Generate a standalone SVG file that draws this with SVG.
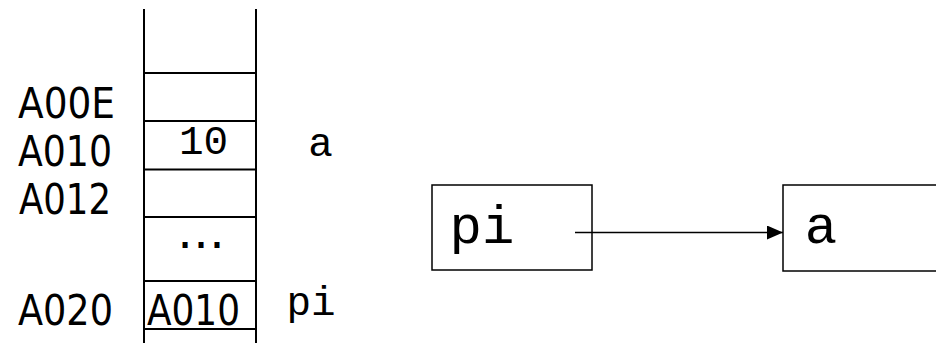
<svg xmlns="http://www.w3.org/2000/svg" width="936" height="343" viewBox="0 0 936 343">
  <style>
    .line { stroke: #000; stroke-width: 2; fill: none; }
    .box { stroke: #000; stroke-width: 1.5; fill: #fff; }
    .addr { font-family: "DejaVu Sans Condensed", "DejaVu Sans", Tahoma, sans-serif; font-size: 43px; fill: #000; }
    .dots { font-family: "DejaVu Sans", sans-serif; font-size: 48px; fill: #000; }
    .mono { font-family: "Courier New", "Liberation Mono", monospace; fill: #000; }
    .small { font-size: 41px; }
    .big { font-size: 54px; }
    .conn { stroke: #000; stroke-width: 1.5; fill: none; }
  </style>
  <defs>
    <marker id="arrow" markerWidth="16" markerHeight="14" refX="16" refY="7" orient="auto" markerUnits="userSpaceOnUse">
      <path d="M0,0 L16,7 L0,14 Z" fill="#000"/>
    </marker>
  </defs>

  <!-- memory stack column -->
  <g id="stack">
    <line class="line" x1="144" y1="9" x2="144" y2="343"/>
    <line class="line" x1="256" y1="9" x2="256" y2="343"/>
    <line class="line" x1="144" y1="73" x2="256" y2="73"/>
    <line class="line" x1="144" y1="121" x2="256" y2="121"/>
    <line class="line" x1="144" y1="169.5" x2="256" y2="169.5"/>
    <line class="line" x1="144" y1="217" x2="256" y2="217"/>
    <line class="line" x1="144" y1="281" x2="256" y2="281"/>
    <line class="line" x1="144" y1="329" x2="256" y2="329"/>
  </g>

  <!-- addresses -->
  <g id="addresses">
    <text class="addr" x="18" y="118" textLength="97" lengthAdjust="spacingAndGlyphs">A00E</text>
    <text class="addr" x="18" y="166" textLength="94" lengthAdjust="spacingAndGlyphs">A010</text>
    <text class="addr" x="19" y="214" textLength="92" lengthAdjust="spacingAndGlyphs">A012</text>
    <text class="addr" x="18" y="325" textLength="95" lengthAdjust="spacingAndGlyphs">A020</text>
  </g>

  <!-- cell contents -->
  <g id="cell-a">
    <text class="mono small" x="203.5" y="154" text-anchor="middle">10</text>
    <text class="mono small" x="320.5" y="156" text-anchor="middle">a</text>
  </g>
  <g id="cell-gap">
    <text class="dots" x="201" y="248" text-anchor="middle">…</text>
  </g>
  <g id="cell-pi">
    <text class="addr" x="147" y="325" textLength="93" lengthAdjust="spacingAndGlyphs">A010</text>
    <text class="mono small" x="311" y="315" text-anchor="middle">pi</text>
  </g>

  <!-- pointer diagram -->
  <g id="node-pi">
    <rect class="box" x="432" y="185" width="160" height="85"/>
    <text class="mono big" x="482" y="243" text-anchor="middle">pi</text>
  </g>
  <g id="node-a">
    <rect class="box" x="783" y="185" width="170" height="86"/>
    <text class="mono big" x="821" y="243" text-anchor="middle">a</text>
  </g>

  <g id="connectors">
    <line class="conn" x1="575" y1="232.5" x2="783" y2="232.5" marker-end="url(#arrow)"/>
  </g>
</svg>
